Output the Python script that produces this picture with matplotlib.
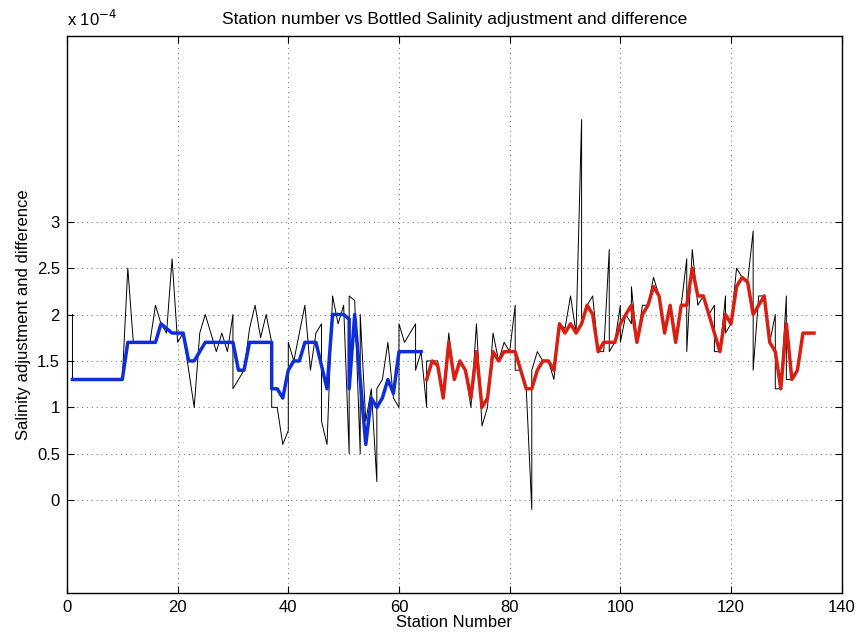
import matplotlib
matplotlib.use("Agg")
import matplotlib.pyplot as plt

# salinity values are in units of 1e-4
# raw bottle difference (thin black); some stations carry two samples
diff_station = [1, 1, 10, 11, 12, 15, 16, 17, 18, 19, 20, 21, 22, 23, 24, 25, 26, 27, 28, 29,
                30, 30, 31, 32, 33, 34, 35, 36, 37, 37, 38, 39, 40, 40, 41, 42, 43, 44, 45, 46,
                46, 47, 48, 49, 50, 51, 51, 52, 53, 53, 54, 55, 56, 56, 57, 58, 59, 60, 60, 61,
                62, 63, 63, 64, 65, 65, 66, 67, 68, 69, 70, 71, 72, 73, 74, 75, 76, 77, 78, 79,
                80, 81, 81, 82, 83, 84, 84, 85, 86, 87, 88, 89, 90, 91, 92, 93, 93, 94, 95, 96,
                97, 98, 98, 99, 100, 100, 101, 102, 102, 103, 104, 105, 106, 107, 108, 109, 110, 111, 112, 112,
                113, 114, 115, 116, 117, 117, 118, 119, 119, 120, 121, 122, 123, 124, 124, 125, 126, 127, 128, 128,
                129, 130, 130, 131, 132, 133, 134, 135]
diff_value = [2.0, 1.3, 1.3, 2.5, 1.7, 1.7, 2.1, 1.9, 1.8, 2.6, 1.7, 1.8, 1.4, 1.0, 1.8, 2.0, 1.8, 1.6, 1.8, 1.6,
              2.0, 1.2, 1.3, 1.4, 1.85, 2.1, 1.75, 2.0, 1.7, 1.0, 1.0, 0.6, 0.75, 1.7, 1.5, 1.8, 2.1, 1.4, 1.8, 1.9,
              0.85, 0.6, 2.2, 1.9, 2.1, 0.5, 2.2, 2.15, 0.5, 2.0, 0.85, 1.2, 0.2, 1.2, 1.3, 1.7, 1.1, 1.0, 1.9, 1.7,
              1.8, 1.9, 1.4, 1.6, 1.0, 1.5, 1.5, 1.5, 1.1, 1.8, 1.3, 1.5, 1.4, 1.0, 1.9, 0.8, 1.0, 1.8, 1.5, 1.7,
              1.6, 2.1, 1.4, 1.4, 1.2, -0.1, 1.4, 1.6, 1.5, 1.5, 1.3, 1.9, 1.85, 2.2, 1.8, 4.1, 1.9, 2.1, 2.2, 1.6,
              1.6, 2.7, 1.6, 1.7, 2.1, 1.7, 2.0, 1.9, 2.3, 1.7, 2.1, 2.1, 2.4, 2.2, 1.8, 2.1, 1.7, 2.1, 2.6, 1.6,
              2.7, 2.1, 2.2, 2.0, 2.1, 1.6, 1.6, 2.2, 1.8, 1.9, 2.5, 2.4, 2.35, 2.9, 1.4, 2.2, 2.2, 1.7, 2.0, 1.2,
              1.2, 2.2, 1.3, 1.3, 1.4, 1.8, 1.8, 1.8]

# applied adjustment, first leg (blue)
adj1_station = [1, 10, 11, 16, 17, 18, 19, 20, 21, 22, 23, 24, 25, 30, 31, 32, 33, 37, 37, 38,
                39, 40, 41, 42, 43, 44, 45, 46, 47, 48, 49, 50, 51, 51, 52, 53, 54, 55, 56, 57,
                58, 59, 60, 61, 62, 63, 64]
adj1_value = [1.3, 1.3, 1.7, 1.7, 1.9, 1.85, 1.8, 1.8, 1.8, 1.5, 1.5, 1.6, 1.7, 1.7, 1.4, 1.4, 1.7, 1.7, 1.2, 1.2,
              1.1, 1.4, 1.5, 1.5, 1.7, 1.7, 1.7, 1.45, 1.2, 2.0, 2.0, 2.0, 1.95, 1.2, 2.0, 1.3, 0.6, 1.1, 1.0, 1.1,
              1.3, 1.15, 1.6, 1.6, 1.6, 1.6, 1.6]

# applied adjustment, second leg (red)
adj2_station = list(range(65, 136))
adj2_value = [1.3, 1.5, 1.45, 1.1, 1.7, 1.3, 1.5, 1.4, 1.1, 1.6,
              1.0, 1.1, 1.6, 1.5, 1.6, 1.6, 1.6, 1.4, 1.2, 1.2,
              1.4, 1.5, 1.5, 1.4, 1.9, 1.8, 1.9, 1.8, 1.9, 2.1,
              2.0, 1.6, 1.7, 1.7, 1.7, 1.9, 2.0, 2.1, 1.7, 2.0,
              2.1, 2.3, 2.2, 1.8, 2.1, 1.7, 2.1, 2.1, 2.5, 2.2,
              2.2, 2.0, 1.8, 1.6, 2.0, 1.9, 2.3, 2.4, 2.35, 2.0,
              2.1, 2.2, 1.7, 1.6, 1.2, 1.9, 1.3, 1.4, 1.8, 1.8, 1.8]

yticks = [0, 0.5, 1, 1.5, 2, 2.5, 3]
ytick_labels = ['0', '0.5', '1', '1.5', '2', '2.5', '3']

plt.rcParams['font.family'] = ['Liberation Sans', 'DejaVu Sans']

fig = plt.figure(figsize=(8.58, 6.32), dpi=100)
ax = fig.add_axes([0.078, 0.0617, 0.903, 0.8813])

ax.plot(diff_station, diff_value, '-', color='k', lw=0.7)
ax.plot(adj1_station, adj1_value, '-', color=(0.05, 0.18, 0.85), lw=2.5)
ax.plot(adj2_station, adj2_value, '-', color=(0.85, 0.12, 0.07), lw=2.5)

ax.set_xlim(0, 140)
ax.set_ylim(-1, 5)
ax.set_xticks(range(0, 141, 20))
ax.set_yticks(yticks)
ax.set_yticklabels(ytick_labels)
ax.tick_params(direction='in', top=True, right=True, labelsize=12, length=5, width=0.8, pad=5)
ax.grid(True, linestyle=(0, (1, 4)), color='0.4', lw=0.7)
for s in ax.spines.values():
    s.set_linewidth(1.0)

ax.set_title('Station number vs Bottled Salinity adjustment and difference', fontsize=12.5, pad=9)
ax.set_xlabel('Station Number', fontsize=12, labelpad=0)
ax.set_ylabel('Salinity adjustment and difference', fontsize=12, labelpad=4)
ax.text(0.0, 1.012, r'x 10$^{-4}$', transform=ax.transAxes, fontsize=12, ha='left', va='bottom')

fig.savefig('out.png', dpi=100)
